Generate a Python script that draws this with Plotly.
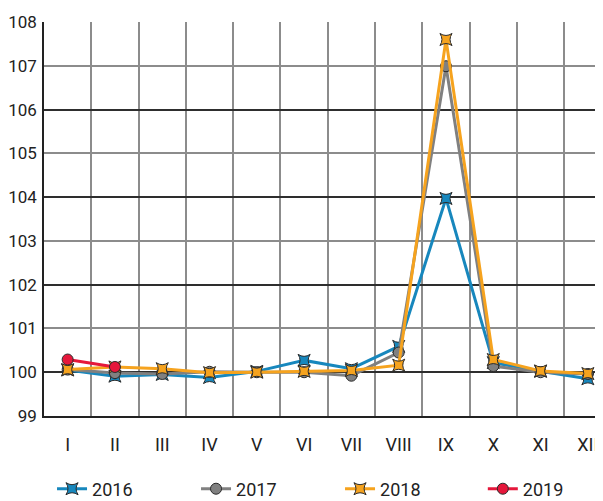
import plotly.graph_objects as go

months = ["I", "II", "III", "IV", "V", "VI", "VII", "VIII", "IX", "X", "XI", "XII"]
y2016 = [100.05, 99.91, 99.95, 99.88, 100.02, 100.27, 100.08, 100.59, 103.97, 100.22, 100.02, 99.85]
y2017 = [100.06, 99.98, 99.96, 100.01, 100.0, 100.0, 99.92, 100.45, 106.99, 100.14, 100.0, 99.96]
y2018 = [100.06, 100.12, 100.08, 99.99, 100.0, 100.02, 100.04, 100.16, 107.6, 100.29, 100.03, 99.97]
y2019 = [100.29, 100.12]
years = ["2016", "2017", "2018", "2019"]

FONT = "Roboto, sans-serif"
styles = {
    "2016": dict(color="#1787bd", symbol="star-square", legend="legend"),
    "2017": dict(color="#808080", symbol="circle", legend="legend"),
    "2018": dict(color="#f6a31e", symbol="star-square", legend="legend"),
    "2019": dict(color="#e5173b", symbol="circle", legend="legend2"),
}
data = {"2016": y2016, "2017": y2017, "2018": y2018, "2019": y2019}

fig = go.Figure()
for yr in years:
    st = styles[yr]
    vals = data[yr]
    fig.add_trace(go.Scatter(
        x=months[:len(vals)], y=vals, name=yr, mode="lines+markers",
        line=dict(color=st["color"], width=3),
        marker=dict(symbol=st["symbol"], size=11, color=st["color"],
                    line=dict(color="#2a2a2a", width=1)),
        yaxis="y", legend=st["legend"],
    ))

# overlay axis for alternating (dark) gridlines on even values
fig.add_trace(go.Scatter(x=[months[0]], y=[None], yaxis="y2", showlegend=False,
                         hoverinfo="skip", mode="markers"))

legend_common = dict(
    orientation="h", xref="container", yref="container",
    xanchor="left", y=0.0243, yanchor="middle",
    entrywidth=99, entrywidthmode="pixels",
    font=dict(family=FONT, size=18, color="#222222"),
    itemsizing="trace", bgcolor="rgba(0,0,0,0)",
)

fig.update_layout(
    width=595, height=493,
    margin=dict(l=36, r=0, t=14, b=85, autoexpand=False),
    paper_bgcolor="white", plot_bgcolor="white",
    font=dict(family=FONT, size=18, color="#222222"),
    xaxis=dict(
        type="category", categoryorder="array", categoryarray=months,
        range=[-0.5, 11.32], tickson="boundaries", automargin=False,
        showgrid=True, gridcolor="#8c8c8c", gridwidth=1.5,
        showline=True, linecolor="#222222", linewidth=1.5,
        ticks="", ticklabelstandoff=12, zeroline=False,
        ticklabeloverflow="allow",
    ),
    yaxis=dict(
        range=[99, 108], dtick=1, tick0=99, automargin=False,
        showgrid=True, gridcolor="#8c8c8c", gridwidth=2,
        showline=True, linecolor="#222222", linewidth=1.5,
        ticks="", ticklabelstandoff=2, zeroline=False,
        tickfont=dict(size=17),
    ),
    yaxis2=dict(
        range=[99, 108], dtick=2, tick0=100, overlaying="y", automargin=False,
        showgrid=True, gridcolor="#2e2e2e", gridwidth=1.5,
        showticklabels=False, zeroline=False,
    ),
    legend=dict(legend_common, x=0.074),
    legend2=dict(legend_common, x=0.798),
    showlegend=True,
)

fig.write_html("out.html")
